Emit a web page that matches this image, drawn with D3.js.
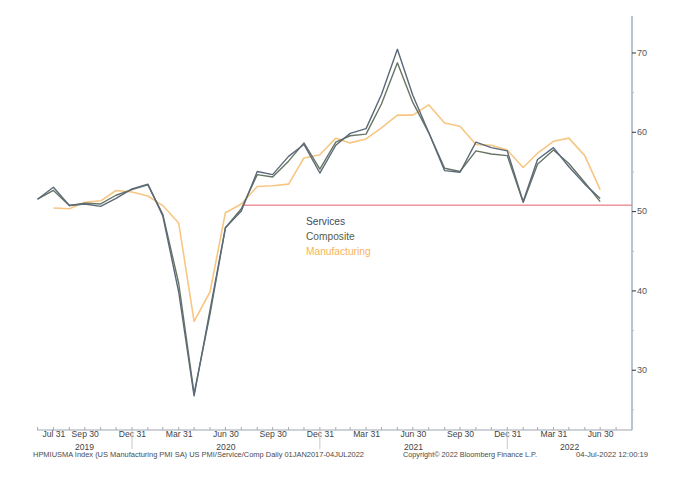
<!DOCTYPE html>
<html>
<head>
<meta charset="utf-8">
<script src="https://cdn.jsdelivr.net/npm/d3@7"></script>
<style>
  body { margin: 0; background: #fff; }
  svg { display: block; font-family: "Liberation Sans", Arial, sans-serif; }
</style>
</head>
<body>
<svg id="chart"></svg>
<script>
// monthly PMI readings, plotted on month-end dates
const months = [
  "2019-06-30", "2019-07-31", "2019-08-31", "2019-09-30", "2019-10-31", "2019-11-30", "2019-12-31",
  "2020-01-31", "2020-02-29", "2020-03-31", "2020-04-30", "2020-05-31", "2020-06-30",
  "2020-07-31", "2020-08-31", "2020-09-30", "2020-10-31", "2020-11-30", "2020-12-31",
  "2021-01-31", "2021-02-28", "2021-03-31", "2021-04-30", "2021-05-31", "2021-06-30",
  "2021-07-31", "2021-08-31", "2021-09-30", "2021-10-31", "2021-11-30", "2021-12-31",
  "2022-01-31", "2022-02-28", "2022-03-31", "2022-04-30", "2022-05-31", "2022-06-30"
];
const services = [
  51.5, 53.0, 50.7, 50.9, 50.6, 51.6, 52.8,
  53.4, 49.4, 39.8, 26.7, 37.5, 47.9,
  50.0, 55.0, 54.6, 56.9, 58.4, 54.8,
  58.3, 59.8, 60.4, 64.7, 70.4, 64.6,
  59.9, 55.1, 54.9, 58.7, 58.0, 57.6,
  51.2, 56.5, 58.0, 55.6, 53.4, 51.6
];
const composite = [
  51.5, 52.6, 50.7, 51.0, 50.9, 52.0, 52.7,
  53.3, 49.6, 40.9, 27.0, 37.0, 47.9,
  50.3, 54.6, 54.3, 56.3, 58.6, 55.3,
  58.7, 59.5, 59.7, 63.5, 68.7, 63.7,
  59.9, 55.4, 55.0, 57.6, 57.2, 57.0,
  51.1, 55.9, 57.7, 56.0, 53.6, 51.2
];
// manufacturing line starts one month later (no Jun 2019 point)
const manufacturing = [
  null, 50.4, 50.3, 51.1, 51.3, 52.6, 52.4,
  51.9, 50.7, 48.5, 36.1, 39.8, 49.8,
  50.9, 53.1, 53.2, 53.4, 56.7, 57.1,
  59.2, 58.6, 59.1, 60.5, 62.1, 62.1,
  63.4, 61.1, 60.7, 58.4, 58.3, 57.7,
  55.5, 57.3, 58.8, 59.2, 57.0, 52.7
];
const seriesNames = ["Services", "Composite", "Manufacturing"];
const seriesColors = ["#5b6979", "#677463", "#f7c683"];
const legendColors = ["#3c4a63", "#56603f", "#f6b45a"];

const labelDates = [
  "2019-07-31", "2019-09-30", "2019-12-31", "2020-03-31", "2020-06-30", "2020-09-30",
  "2020-12-31", "2021-03-31", "2021-06-30", "2021-09-30", "2021-12-31", "2022-03-31", "2022-06-30"
];
const yearBreaks = ["2019-12-31", "2020-12-31", "2021-12-31"];
const years = ["2019", "2020", "2021", "2022"];
const yTicks = [25, 30, 35, 40, 45, 50, 55, 60, 65, 70];
const refLevel = 50.75;
const refStart = "2020-08-05";

const footerLeft = "HPMIUSMA Index (US Manufacturing PMI SA) US PMI/Service/Comp  Daily 01JAN2017-04JUL2022";
const footerMid = "Copyright\u00A9 2022 Bloomberg Finance L.P.";
const footerRight = "04-Jul-2022 12:00:19";

const W = 700, H = 477;
const plot = { left: 37, right: 632, top: 16, bottom: 430 };
const parse = d3.timeParse("%Y-%m-%d");

const svg = d3.select("#chart").attr("width", W).attr("height", H);
svg.append("rect").attr("width", W).attr("height", H).attr("fill", "#fff");

const x = d3.scaleTime()
  .domain([parse("2019-06-29"), parse("2022-08-31")])
  .range([plot.left, plot.right]);
const y = d3.scaleLinear()
  .domain([22.4, 74.6])
  .range([plot.bottom, plot.top]);

// reference line
svg.append("line")
  .attr("x1", x(parse(refStart))).attr("x2", plot.right)
  .attr("y1", y(refLevel)).attr("y2", y(refLevel))
  .attr("stroke", "#e0606a").attr("stroke-width", 1);

// series lines (manufacturing underneath)
const line = d3.line()
  .defined(d => d.v != null)
  .x(d => x(d.date))
  .y(d => y(d.v));

const allSeries = [services, composite, manufacturing];
[2, 1, 0].forEach(i => {
  const pts = months.map((m, j) => ({ date: parse(m), v: allSeries[i][j] }));
  svg.append("path")
    .datum(pts)
    .attr("fill", "none")
    .attr("stroke", seriesColors[i])
    .attr("stroke-width", i === 2 ? 1.6 : 1.4)
    .attr("stroke-linejoin", "round")
    .attr("d", line);
});

// legend
seriesNames.forEach((n, i) => {
  svg.append("text")
    .attr("x", 306).attr("y", 224.5 + i * 15)
    .attr("font-size", 10.2)
    .attr("fill", legendColors[i])
    .text(n);
});

// right axis
const yAxis = d3.axisRight(y)
  .tickValues(yTicks)
  .tickSize(3)
  .tickFormat(d => d % 10 === 0 ? d : "");
const gy = svg.append("g")
  .attr("transform", `translate(${plot.right},0)`)
  .call(yAxis);
gy.select(".domain").attr("stroke", "#8a9db0").attr("stroke-width", 1.2)
  .attr("d", `M0,${plot.top}V${plot.bottom}`);
gy.selectAll(".tick line")
  .attr("stroke", d => d % 10 === 0 ? "#333" : "#bbb")
  .attr("x2", d => d % 10 === 0 ? 4 : 2);
gy.selectAll(".tick text")
  .attr("x", 5)
  .attr("font-size", 9)
  .attr("font-family", "Liberation Sans, Arial, sans-serif")
  .attr("fill", "#555");

// bottom axis: monthly ticks pointing up
const xAxisMinor = d3.axisBottom(x)
  .ticks(d3.timeMonth.every(1))
  .tickSize(-3)
  .tickFormat("");
const gx = svg.append("g")
  .attr("transform", `translate(0,${plot.bottom})`)
  .call(xAxisMinor);
gx.select(".domain").attr("stroke", "#9aa6b2").attr("stroke-width", 1)
  .attr("d", `M${plot.left},0H${plot.right}`);
gx.selectAll(".tick line").attr("stroke", "#aaa")
  .attr("transform", "translate(-1,0)");

// quarter labels
const xAxisLabels = d3.axisBottom(x)
  .tickValues(labelDates.map(parse))
  .tickSize(0)
  .tickPadding(1)
  .tickFormat(d3.timeFormat("%b %d"));
const gxl = svg.append("g")
  .attr("transform", `translate(0,${plot.bottom})`)
  .call(xAxisLabels);
gxl.select(".domain").remove();
gxl.selectAll(".tick text")
  .attr("font-size", 8.6)
  .attr("font-family", "Liberation Sans, Arial, sans-serif")
  .attr("fill", "#444");

// year separators and year labels
svg.selectAll(".yearbreak")
  .data(yearBreaks.map(parse))
  .enter().append("line")
  .attr("class", "yearbreak")
  .attr("x1", d => x(d)).attr("x2", d => x(d))
  .attr("y1", plot.bottom + 1).attr("y2", plot.bottom + 19)
  .attr("stroke", "#c8c8c8");

const edges = [x.domain()[0], ...yearBreaks.map(parse), x.domain()[1]];
years.forEach((yr, i) => {
  svg.append("text")
    .attr("x", (x(edges[i]) + x(edges[i + 1])) / 2)
    .attr("y", 449.5)
    .attr("text-anchor", "middle")
    .attr("font-size", 8.6)
    .attr("fill", "#444")
    .text(yr);
});

// footer
const footer = svg.append("g")
  .attr("font-size", 7.4)
  .attr("fill", "#4a4a4a");
footer.append("text").attr("x", 33).attr("y", 457)
  .attr("textLength", 331).attr("lengthAdjust", "spacingAndGlyphs").text(footerLeft);
footer.append("text").attr("x", 403).attr("y", 457)
  .attr("textLength", 134).attr("lengthAdjust", "spacingAndGlyphs").text(footerMid);
footer.append("text").attr("x", 576).attr("y", 457)
  .attr("textLength", 72).attr("lengthAdjust", "spacingAndGlyphs").text(footerRight);
</script>
</body>
</html>
